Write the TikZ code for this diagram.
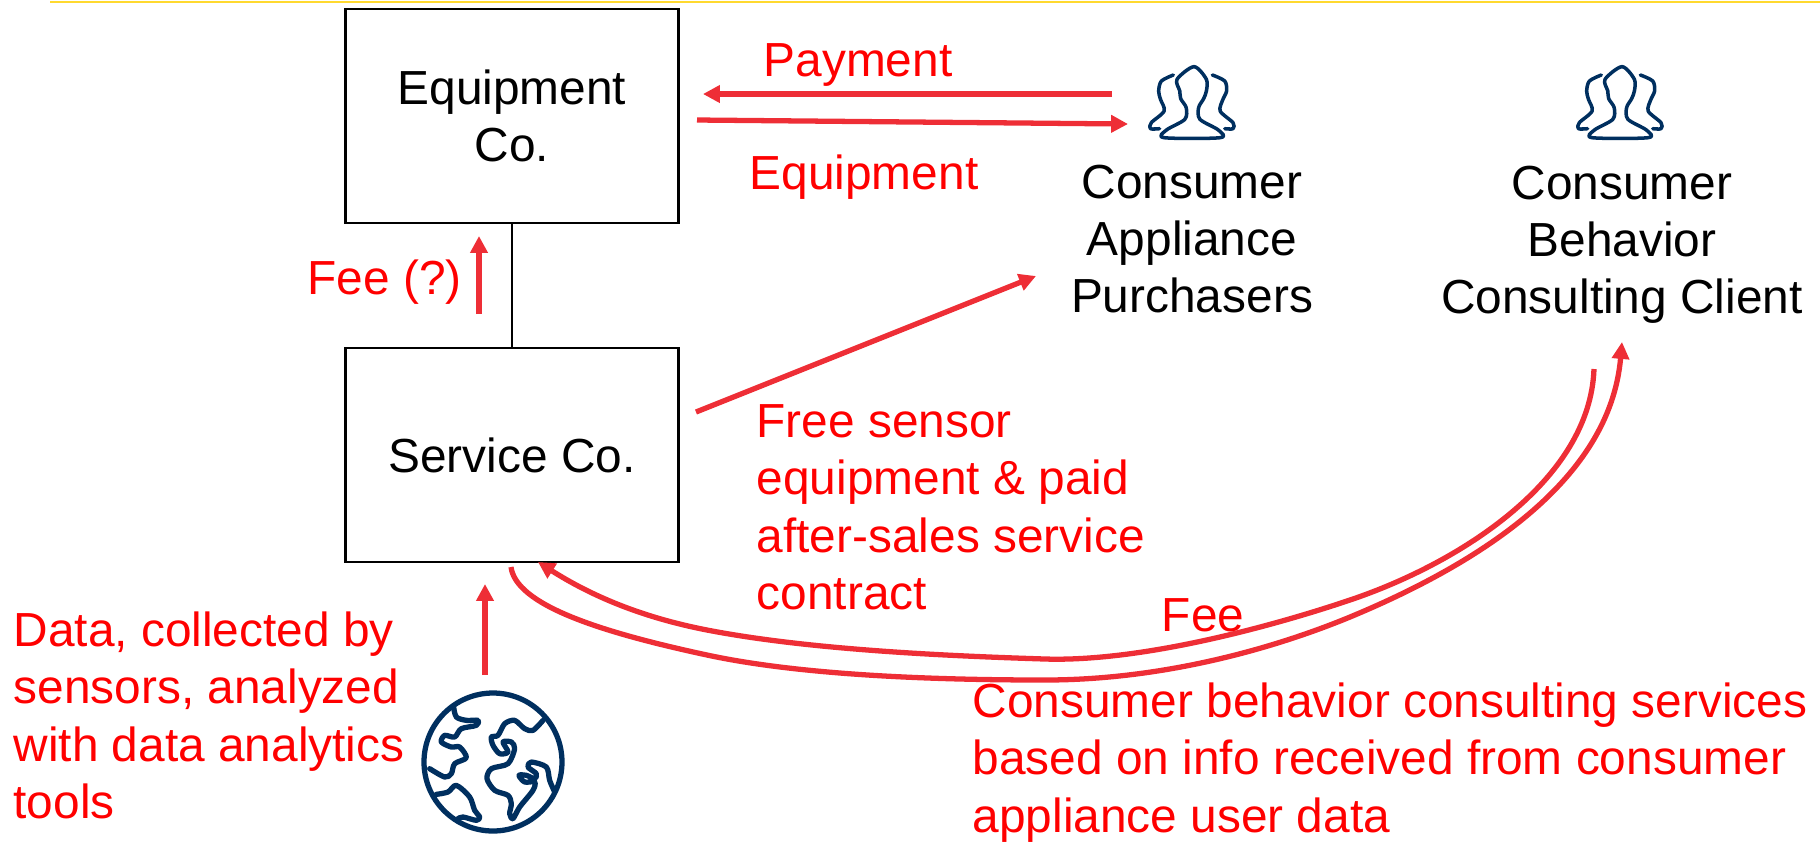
\documentclass[tikz,border=0pt]{standalone}
\usepackage{fontspec}
\setmainfont{Liberation Sans}
\usetikzlibrary{arrows.meta}
\definecolor{flowred}{HTML}{EE2E36}
\definecolor{iconblue}{HTML}{002F5F}
\definecolor{ruleyellow}{HTML}{FFD92F}
\begin{document}
\begin{tikzpicture}[x=.01cm,y=-.01cm]
    % set the style of the boxes, labels and arrows
    \tikzset{
        firm/.style={draw=black, line width=0.6pt, minimum width=333*.01cm, minimum height=214*.01cm, inner sep=0pt, align=center, font=\fontsize{13.6}{16.3}\selectfont},
        party/.style={align=center, inner sep=0pt, font=\fontsize{13.6}{16.2}\selectfont},
        note/.style={text=red, align=left, inner sep=0pt, font=\fontsize{13.6}{16.3}\selectfont},
        flow/.style={draw=flowred, line width=1.5pt, -{Triangle[length=4.8pt,width=4.8pt]}},
        iconline/.style={draw=iconblue, line cap=round, line join=round},
        people/.pic={
            \begin{scope}[xscale=.459,yscale=.3333,shift={(-205,-80)},iconline,line width=1pt]
                \draw plot[smooth cycle,tension=.5] coordinates {(140,295) (145,272) (185,240) (188,205) (176,178) (174,155) (168,120) (205,82) (232,120) (232,155) (226,178) (215,205) (218,240) (258,272) (262,295)};
                \draw plot[smooth,tension=.5] coordinates {(160,107) (134,125) (128,155) (132,180) (140,215) (112,250) (110,268) (130,268)};
                \draw plot[smooth,tension=.5] coordinates {(245,107) (272,125) (276,155) (268,180) (262,215) (290,250) (290,268) (272,268)};
            \end{scope}
        },
        globe/.pic={
            \begin{scope}[scale=.3333,shift={(-340,-365)},iconline,line width=1.5pt]
                \draw (340,365) circle (207);
                \draw plot[smooth,tension=.5] coordinates {(222,200) (230,230) (260,240) (295,240) (290,255) (245,265) (225,290) (195,285) (185,305) (215,320) (240,320) (260,352) (225,370) (215,400) (195,410) (150,385)};
                \draw plot[smooth,tension=.5] coordinates {(170,462) (205,455) (230,435) (270,470) (285,510) (300,530) (290,540) (250,530) (235,535)};
                \draw plot[smooth,tension=.5] coordinates {(490,240) (460,270) (435,265) (405,240) (375,250) (355,285) (335,290) (340,315) (360,340) (385,335) (370,305) (395,305) (405,325) (385,370) (335,385) (322,415) (345,450) (385,465) (395,490) (390,520) (400,535) (420,500) (460,450) (465,425) (435,425) (418,405) (440,405) (465,415) (470,400) (445,380) (455,365) (500,380) (510,420) (525,455)};
            \end{scope}
        }
    }

    \useasboundingbox (0,0) rectangle (1820,841);

    % top rule
    \coordinate (ruleleft) at (50,2);
    \coordinate (ruleright) at (1820,2);
    \draw[draw=ruleyellow, line width=0.8pt] (ruleleft) -- (ruleright);

    % boxes
    \node[firm] (equip) at (512,116) {Equipment\\Co.};
    \node[firm] (service) at (512,455) {Service Co.};
    \draw[line width=0.6pt] (equip) -- (service);

    % icons and parties
    \pic at (1194,66) {people};
    \pic at (1622,66) {people};
    \pic at (493,762) {globe};
    \node[party] (purchasers) at (1192,239) {Consumer\\Appliance\\Purchasers};
    \node[party] (client) at (1622,245) {Consumer\\Behavior\\Consulting Client};

    % labels
    \node[note, anchor=west] (payment) at (763,65) {Payment};
    \node[note, anchor=west] (equipment) at (749,177) {Equipment};
    \node[note, anchor=west] (fee) at (307,282) {Fee (?)};
    \node[note, anchor=north west] (sensor) at (756,404) {Free sensor\\equipment \& paid\\after-sales service\\contract};
    \node[note] (feeback) at (1203,615) {Fee};
    \node[note, anchor=north west] (consulting) at (972,682) {Consumer behavior consulting services\\based on info received from consumer\\appliance user data};
    \node[note, anchor=north west] (data) at (13,611) {Data, collected by\\sensors, analyzed\\with data analytics\\tools};

    % arrow ends
    \coordinate (payfrom) at (1112,94);
    \coordinate (payto) at (703,94);
    \coordinate (eqfrom) at (697,120);
    \coordinate (eqto) at (1128,124);
    \coordinate (feefrom) at (479,314);
    \coordinate (feeto) at (479,236);
    \coordinate (freefrom) at (696,412);
    \coordinate (freeto) at (1036,276);
    \coordinate (datafrom) at (485,675);
    \coordinate (datato) at (485,584);
    \coordinate (backfrom) at (1594,369);
    \coordinate (backto) at (538,562);
    \coordinate (servfrom) at (511,567);
    \coordinate (servto) at (1622,342);

    % arrows
    \draw[flow] (payfrom) -- (payto);
    \draw[flow] (eqfrom) -- (eqto);
    \draw[flow] (feefrom) -- (feeto);
    \draw[flow] (freefrom) -- (freeto);
    \draw[flow] (datafrom) -- (datato);
    \draw[flow] (backfrom) .. controls (1590,480) and (1460,563) .. (1350,600) .. controls (1270,627) and (1140,662) .. (1045,659) .. controls (950,656) and (810,650) .. (707,630) .. controls (640,617) and (590,595) .. (backto);
    \draw[flow] (servfrom) .. controls (516,605) and (600,632) .. (707,655) .. controls (800,675) and (930,680) .. (1045,680) .. controls (1160,680) and (1270,650) .. (1350,617) .. controls (1480,563) and (1610,480) .. (servto);
\end{tikzpicture}
\end{document}
